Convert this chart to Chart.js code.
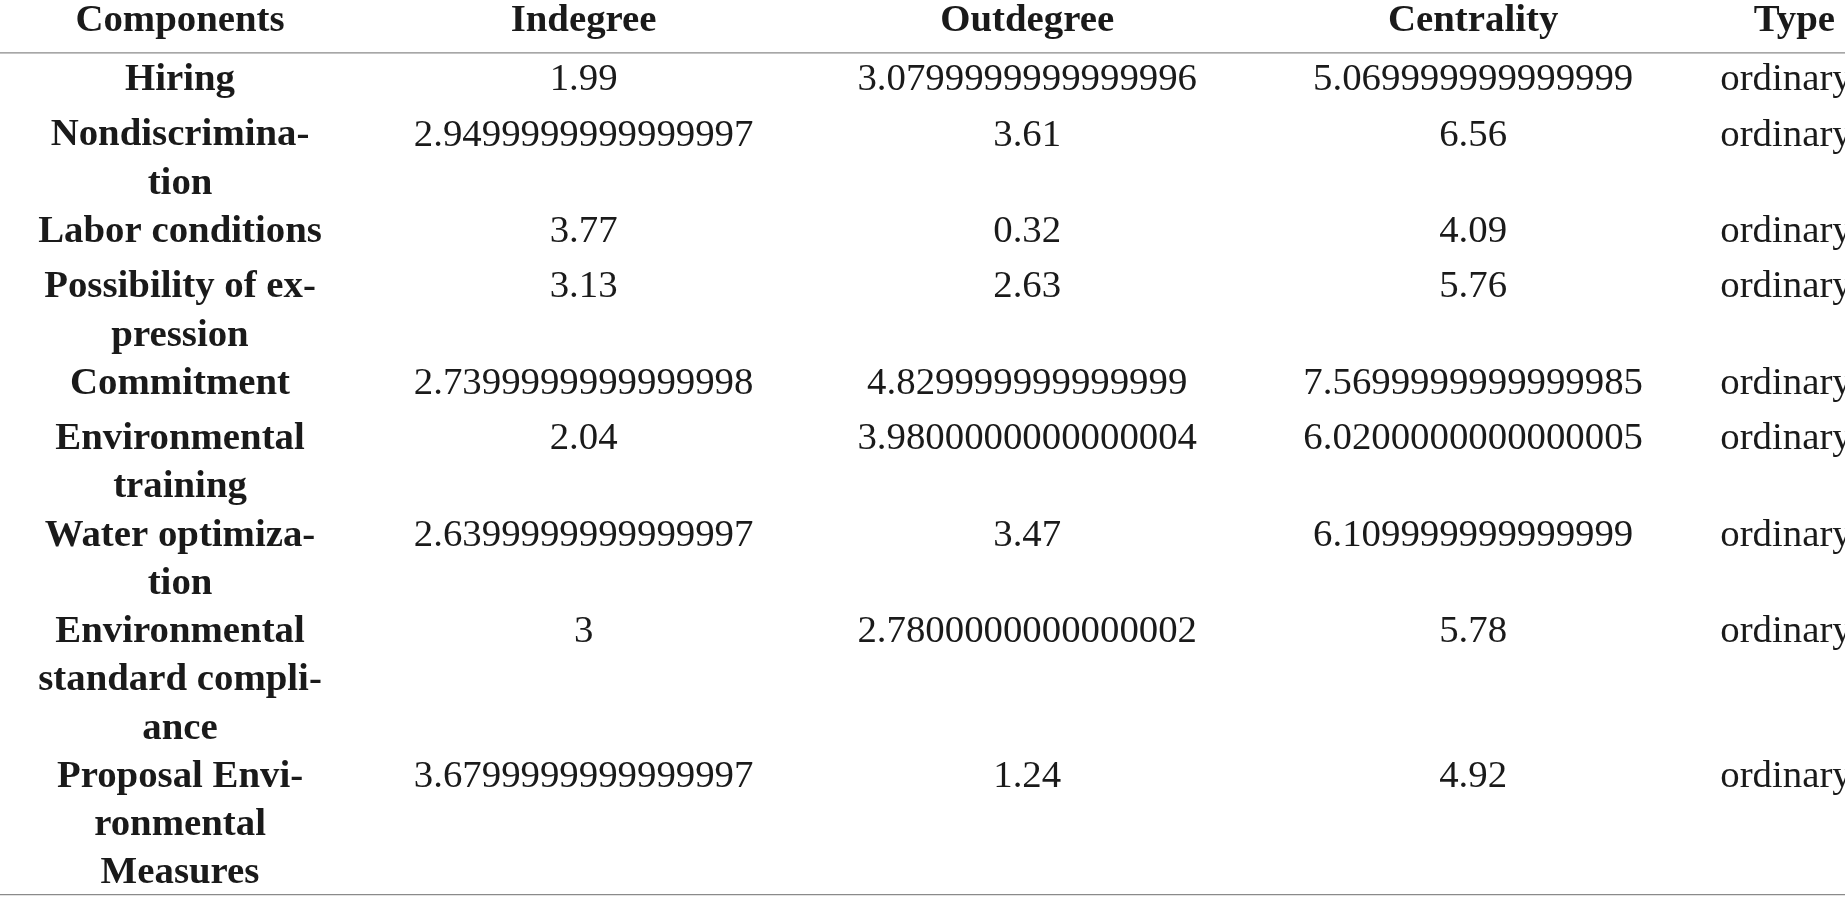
<!DOCTYPE html>
<html>
<head>
<meta charset="utf-8">
<script src="https://cdn.jsdelivr.net/npm/chart.js@4.4.0/dist/chart.umd.min.js"></script>
<style>
  html, body { margin: 0; padding: 0; background: #fff; overflow: hidden; }
  #wrap { width: 1845px; height: 897px; }
</style>
</head>
<body>
<div id="wrap"><canvas id="tableCanvas"></canvas></div>
<script>
  // === Table data ===
  const headers = ['Components', 'Indegree', 'Outdegree', 'Centrality', 'Type'];
  const components = [
    ['Hiring'],
    ['Nondiscrimina-', 'tion'],
    ['Labor conditions'],
    ['Possibility of ex-', 'pression'],
    ['Commitment'],
    ['Environmental', 'training'],
    ['Water optimiza-', 'tion'],
    ['Environmental', 'standard compli-', 'ance'],
    ['Proposal Envi-', 'ronmental', 'Measures']
  ];
  const indegree = [1.99, 2.9499999999999997, 3.77, 3.13, 2.7399999999999998, 2.04, 2.6399999999999997, 3, 3.6799999999999997];
  const outdegree = [3.0799999999999996, 3.61, 0.32, 2.63, 4.829999999999999, 3.9800000000000004, 3.47, 2.7800000000000002, 1.24];
  const centrality = [5.069999999999999, 6.56, 4.09, 5.76, 7.5699999999999985, 6.0200000000000005, 6.109999999999999, 5.78, 4.92];
  const types = ['ordinary', 'ordinary', 'ordinary', 'ordinary', 'ordinary', 'ordinary', 'ordinary', 'ordinary', 'ordinary'];

  // column centres / row metrics in "source" units (scales map them to pixels)
  const colX = [153, 496, 873, 1252, 1525];
  const typeLeft = 1462;
  const LINE = 41;

  const tablePlugin = {
    id: 'tableText',
    afterDraw(chart) {
      const c = chart.ctx;
      const xs = chart.scales.x, ys = chart.scales.y;
      const k = chart.width / 1568;
      const X = v => xs.getPixelForValue(v);
      const Y = v => ys.getPixelForValue(v);
      c.save();
      c.fillStyle = '#1a1a1a';
      c.textBaseline = 'middle';

      // header
      c.font = `bold ${33 * k}px "Liberation Serif", "Times New Roman", serif`;
      c.textAlign = 'center';
      headers.forEach((h, i) => c.fillText(h, X(colX[i]), Y(18)));

      // rules
      c.strokeStyle = '#8a8a8a';
      c.lineWidth = 1.2;
      [45, 760].forEach(v => {
        c.beginPath();
        c.moveTo(X(0), Y(v));
        c.lineTo(X(1568), Y(v));
        c.stroke();
      });

      // body rows
      let y = 68;
      components.forEach((lines, r) => {
        c.font = `bold ${33 * k}px "Liberation Serif", "Times New Roman", serif`;
        c.textAlign = 'center';
        lines.forEach((t, j) => c.fillText(t, X(colX[0]), Y(y + j * LINE)));
        c.font = `${33 * k}px "Liberation Serif", "Times New Roman", serif`;
        c.fillText(String(indegree[r]), X(colX[1]), Y(y));
        c.fillText(String(outdegree[r]), X(colX[2]), Y(y));
        c.fillText(String(centrality[r]), X(colX[3]), Y(y));
        c.textAlign = 'left';
        c.fillText(types[r], X(typeLeft), Y(y));
        y += lines.length * LINE + (lines.length === 1 ? 6 : 0);
      });
      c.restore();
    }
  };

  const ctx = document.getElementById('tableCanvas').getContext('2d');
  new Chart(ctx, {
    type: 'scatter',
    data: { datasets: [{ data: [], pointRadius: 0 }] },
    options: {
      responsive: true,
      maintainAspectRatio: false,
      animation: false,
      layout: { padding: 0 },
      plugins: { legend: { display: false }, tooltip: { enabled: false } },
      scales: {
        x: { type: 'linear', min: 0, max: 1568, display: false },
        y: { type: 'linear', min: 0, max: 762, reverse: true, display: false }
      }
    },
    plugins: [tablePlugin]
  });
</script>
</body>
</html>
